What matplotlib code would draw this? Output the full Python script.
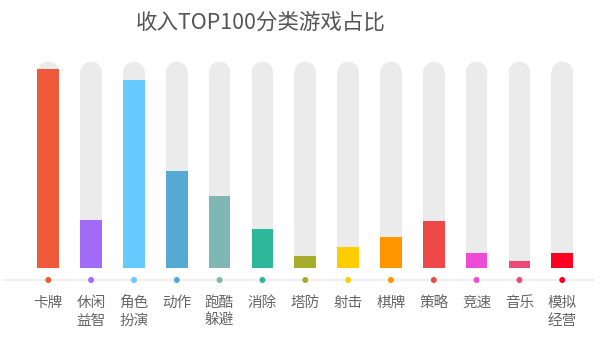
import matplotlib
matplotlib.use("Agg")
import matplotlib.pyplot as plt

plt.rcParams['font.family'] = ['Noto Sans CJK SC', 'DejaVu Sans']

title = "收入TOP100分类游戏占比"
categories = ["卡牌", "休闲\n益智", "角色\n扮演", "动作", "跑酷\n躲避", "消除", "塔防",
              "射击", "棋牌", "策略", "竞速", "音乐", "模拟\n经营"]
values = [25.1, 6.1, 23.7, 12.2, 9.1, 4.95, 1.6, 2.7, 3.9, 5.9, 1.9, 0.9, 1.9]
track_max = 26.0
colors = ["#F05A3A", "#A36CF8", "#66CCFF", "#55AAD4", "#7FB7B4", "#2DB89C", "#A6AD2C",
          "#FFCC00", "#FF9500", "#EE4848", "#EE4CD6", "#EE4A78", "#FF0022"]

W, H, DPI = 600, 361, 100
fig = plt.figure(figsize=(W / DPI, H / DPI), dpi=DPI)
fig.patch.set_facecolor("white")

# pixel geometry
x0_px, dx_px = 48.3, 42.83
base_px, top_px = 268.3, 61.7
unit_px = (base_px - top_px) / track_max
ax_top_px, ax_bot_px = 45, 300
ax = fig.add_axes([0, 1 - ax_bot_px / H, 1, (ax_bot_px - ax_top_px) / H])
ax.set_xlim(-x0_px / dx_px, (W - x0_px) / dx_px)
ax.set_ylim(-(ax_bot_px - base_px) / unit_px, (base_px - ax_top_px) / unit_px)
ax.axis("off")

bar_w_px = 21.7
bw = bar_w_px / dx_px
r_units = (bar_w_px / 2) / unit_px
xs = list(range(len(categories)))

# background tracks with rounded tops
ax.bar(xs, [track_max - r_units] * len(xs), width=bw, color="#EBEBEB", zorder=1)
ms = bar_w_px * 72 / DPI
ax.scatter(xs, [track_max - r_units] * len(xs), s=ms ** 2, color="#EBEBEB",
           edgecolors="none", zorder=1)

# value bars
ax.bar(xs, values, width=bw, color=colors, zorder=2)

# baseline with dots
dot_y = -(280 - base_px) / unit_px
ax.plot([-45 / dx_px, (595 - x0_px) / dx_px], [dot_y, dot_y], color="#EEEEEE",
        lw=1.2, zorder=1, solid_capstyle="butt")
ax.scatter(xs, [dot_y] * len(xs), s=(6 * 72 / DPI) ** 2 * 1.0, color=colors,
           edgecolors="none", zorder=3)

# labels
for x, lab in zip(xs, categories):
    ax.text(x, -(295.5 - base_px) / unit_px, lab, ha="center", va="top",
            fontsize=10.5, color="#666666", linespacing=1.4, clip_on=False)

fig.text(261 / W, 1 - 23 / H, title, ha="center", va="center", fontsize=15.5,
         color="#555555")

fig.savefig("out.png", dpi=DPI, facecolor="white")
